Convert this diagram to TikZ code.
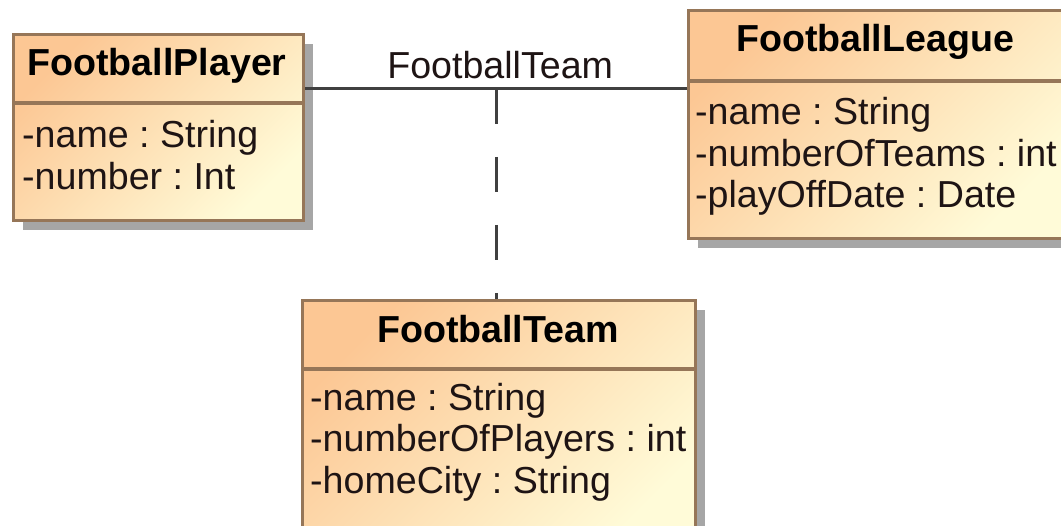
\documentclass[tikz,border=0pt]{standalone}
\usepackage{fontspec}
\setmainfont{Liberation Sans}
\usepackage{tikz}
\usetikzlibrary{shadows}
\definecolor{umltop}{RGB}{252,199,148}
\definecolor{umlbot}{RGB}{255,251,216}
\definecolor{umlborder}{RGB}{150,118,88}
\definecolor{umlshadow}{RGB}{166,166,166}
\definecolor{umlline}{RGB}{64,64,64}
\definecolor{umltext}{RGB}{30,20,20}
\newcommand{\umlfont}{\fontsize{37.6pt}{41.5pt}\selectfont\frenchspacing}
\tikzset{
  classbox/.style={draw=umlborder, line width=3.3pt, inner sep=0pt, anchor=north west,
    top color=umltop, bottom color=umlbot, shading angle=45,
    drop shadow={shadow xshift=9pt, shadow yshift=-9pt, fill=umlshadow, opacity=1}},
  sepln/.style={draw=umlborder, line width=3.3pt},
  headtxt/.style={anchor=base, inner sep=0pt, font=\umlfont\bfseries, text=black},
  attrtxt/.style={anchor=base west, inner sep=0pt, font=\umlfont, text=umltext},
  assocln/.style={line width=3pt, draw=umlline},
  assoclbl/.style={above=8.5pt, xshift=4pt, inner sep=0pt, font=\umlfont, text=umltext},
  dashln/.style={assocln, dash pattern=on 35pt off 33pt},
}

\begin{document}
\begin{tikzpicture}[x=1pt, y=-1pt]
  \useasboundingbox (0,0) rectangle (1061,526);
  \clip (0,0) rectangle (1061,526);
  \node[classbox, minimum width=290pt, minimum height=186pt] (player) at (12,33) {};
  \node[classbox, minimum width=378pt, minimum height=228pt] (league) at (687,9) {};
  \node[classbox, minimum width=393pt, minimum height=250pt] (team) at (301,299) {};
  \draw[sepln] ([yshift=-70pt]player.north west) -- ([yshift=-70pt]player.north east);
  \draw[sepln] ([yshift=-72pt]league.north west) -- ([yshift=-72pt]league.north east);
  \draw[sepln] ([yshift=-70pt]team.north west) -- ([yshift=-70pt]team.north east);
  \node[headtxt] (playername) at (157,76) {FootballPlayer};
  \node[headtxt] (leaguename) at (875,52) {FootballLeague};
  \node[headtxt] (teamname) at (498,343) {FootballTeam};
  \foreach \a [count=\i] in {-name : String, -number : Int}
    \node[attrtxt] (player-attr\i) at (22,{106.5+41.5*\i}) {\a};
  \foreach \a [count=\i] in {-name : String, -numberOfTeams : int, -playOffDate : Date}
    \node[attrtxt] (league-attr\i) at (695,{83.5+41.5*\i}) {\a};
  \foreach \a [count=\i] in {-name : String, -numberOfPlayers : int, -homeCity : String}
    \node[attrtxt] (team-attr\i) at (310,{369+41.5*\i}) {\a};
  \draw[assocln] (player.east |- 0,89) -- node[assoclbl] (assocname) {FootballTeam}
    coordinate[midway] (assocmid) (league.west |- 0,89);
  \draw[dashln] (assocmid) -- (assocmid |- team.north);
\end{tikzpicture}
\end{document}
